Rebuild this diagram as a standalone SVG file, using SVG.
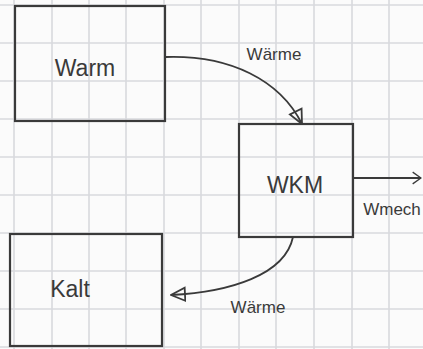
<svg xmlns="http://www.w3.org/2000/svg" width="423" height="349" viewBox="0 0 423 349">
<style>
.grid line{stroke:#d9dade;stroke-width:1.6}
.box{fill:none;stroke:#3a3a3a;stroke-width:2.2}
.lbl{font-family:"Liberation Sans",Arial,sans-serif;fill:#3a3a3a;font-size:23px}
.elbl{font-family:"Liberation Sans",Arial,sans-serif;fill:#3a3a3a;font-size:17px}
.edge{fill:none;stroke:#3a3a3a;stroke-width:1.8}
</style>
<defs>
<marker id="tri" viewBox="0 0 16 16" refX="15" refY="8" markerWidth="16" markerHeight="16" markerUnits="userSpaceOnUse" orient="auto">
<path d="M1,1.5 L15,8 L1,14.5 Z" fill="none" stroke="#3a3a3a" stroke-width="1.8"/>
</marker>
<marker id="open" viewBox="0 0 12 16" refX="11" refY="8" markerWidth="10" markerHeight="16" markerUnits="userSpaceOnUse" orient="auto">
<path d="M1,1 L11,8 L1,15" fill="none" stroke="#3a3a3a" stroke-width="1.6"/>
</marker>
</defs>
<rect width="423" height="349" fill="#fbfbfb"/>
<g class="grid">
<line x1="14" y1="0" x2="14" y2="349"/><line x1="52" y1="0" x2="52" y2="349"/><line x1="89" y1="0" x2="89" y2="349"/><line x1="126" y1="0" x2="126" y2="349"/><line x1="164" y1="0" x2="164" y2="349"/><line x1="201" y1="0" x2="201" y2="349"/><line x1="239" y1="0" x2="239" y2="349"/><line x1="276" y1="0" x2="276" y2="349"/><line x1="314" y1="0" x2="314" y2="349"/><line x1="352" y1="0" x2="352" y2="349"/><line x1="389" y1="0" x2="389" y2="349"/>
<line x1="0" y1="5" x2="423" y2="5"/><line x1="0" y1="43" x2="423" y2="43"/><line x1="0" y1="81" x2="423" y2="81"/><line x1="0" y1="119" x2="423" y2="119"/><line x1="0" y1="157" x2="423" y2="157"/><line x1="0" y1="195" x2="423" y2="195"/><line x1="0" y1="233" x2="423" y2="233"/><line x1="0" y1="271" x2="423" y2="271"/><line x1="0" y1="309" x2="423" y2="309"/><line x1="0" y1="347" x2="423" y2="347"/>
</g>
<g id="warm">
<rect class="box" x="15" y="6" width="150" height="115"/>
<text class="lbl" x="85" y="76" text-anchor="middle">Warm</text>
</g>
<g id="wkm">
<rect class="box" x="239" y="124" width="114" height="113"/>
<text class="lbl" x="295" y="193" text-anchor="middle">WKM</text>
</g>
<g id="kalt">
<rect class="box" x="10" y="234" width="152" height="112"/>
<text class="lbl" x="70" y="297" text-anchor="middle">Kalt</text>
</g>
<g id="connectors">
<path class="edge" d="M166,57 C230,55 280,80 302,124" marker-end="url(#tri)"/>
<text class="elbl" x="274" y="60" text-anchor="middle">Wärme</text>
<path class="edge" d="M354,178 L421,178" marker-end="url(#open)"/>
<text class="elbl" x="392" y="215" text-anchor="middle">Wmech</text>
<path class="edge" d="M293,237 C285,275 230,292 171,295" marker-end="url(#tri)"/>
<text class="elbl" x="258" y="313" text-anchor="middle">Wärme</text>
</g>
</svg>
